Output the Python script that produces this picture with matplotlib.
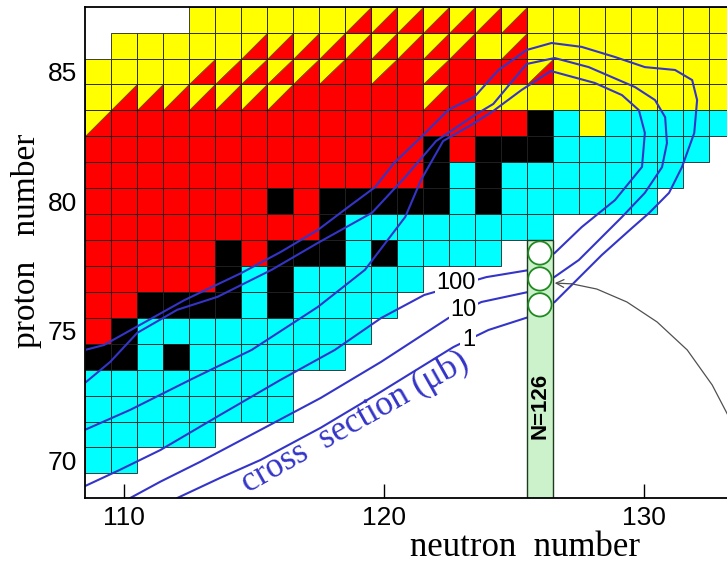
import matplotlib
matplotlib.use("Agg")
import matplotlib.pyplot as plt
from matplotlib.patches import Rectangle, Polygon, Circle

# one string per proton number, top row first; neutron numbers 109 ... 133
# Y alpha, R beta+/EC, K stable, C beta-, T split alpha / beta+, . nothing
proton_numbers = list(range(87, 68, -1))
first_neutron = 109
cell_rows = [
    "....YYYYYYTTTTTTTYYYYYYYY",  # 87
    ".YYYYYTTTTTTTTTYTYYYYYYYY",  # 86
    "YYYYTTTTTTRTRTRRRTYYYYYYY",  # 85
    "YTTTTTTTRRRRRTRYYYYYYYYYY",  # 84
    "TRRRRRRRRRRRRRRRRKCYCCCCC",  # 83
    "RRRRRRRRRRRRRKRKKKCCCCCC.",  # 82
    "RRRRRRRRRRRRRKCKCCCCCCC..",  # 81
    "RRRRRRRKRKKKKKCKCCCCCC...",  # 80
    "RRRRRRRRRKCCCCCCCC.......",  # 79
    "RRRRRKRKKKCKCCCC.........",  # 78
    "RRRRRKCKCCCCC............",  # 77
    "RRKKKKCKCCCC.............",  # 76
    "RKCCCCCCCCC..............",  # 75
    "KKCKCCCCCC...............",  # 74
    "CCCCCCCC.................",  # 73
    "CCCCCCCC.................",  # 72
    "CCCCC....................",  # 71
    "CC.......................",  # 70
    ".........................",  # 69
]
cell_colors = {"Y": "#ffff00", "R": "#ff0000", "K": "#000000", "C": "#00ffff"}

magic_n = 126
magic_top = 78.5
marked_z = [78, 77, 76]

# cross section contours (neutron number, proton number)
c1_n = [108.50, 109.23, 110.62, 112.32, 114.52, 116.03, 117.46, 118.73, 119.66, 120.39,
        121.43, 122.48, 123.48, 124.41, 125.49, 126.45, 127.61, 128.89, 130.04, 131.20,
        131.86, 132.05, 131.94, 131.47, 130.97, 130.20, 129.54, 128.38, 127.42, 126.57,
        125.57, 124.02, 122.67, 119.89, 117.57, 115.26, 113.71, 112.05]
c1_z = [74.26, 74.45, 75.23, 76.18, 77.23, 78.04, 78.89, 79.85, 80.54, 81.47,
        82.47, 83.52, 84.02, 85.06, 85.83, 86.10, 85.95, 85.56, 85.17, 85.06,
        84.67, 83.90, 82.63, 81.32, 80.32, 79.54, 78.96, 77.92, 76.96, 76.11,
        75.53, 75.03, 74.37, 72.65, 71.26, 70.02, 69.33, 68.55]

c10_n = [108.50, 109.47, 110.51, 112.05, 113.60, 115.68, 117.46, 119.54, 120.82, 122.01,
         123.56, 124.21, 125.49, 126.57, 127.88, 129.66, 130.43, 130.82, 130.89, 130.70,
         130.04, 129.16, 128.27, 127.50, 126.57, 125.57, 123.75, 122.48, 119.89, 117.57,
         115.26, 112.94, 111.40, 110.24]
c10_z = [72.99, 73.80, 74.92, 75.81, 76.31, 77.35, 78.39, 79.55, 80.93, 82.32,
         83.36, 83.75, 85.29, 85.52, 85.17, 84.40, 83.90, 83.24, 82.24, 81.31,
         80.32, 79.39, 78.50, 77.73, 77.08, 76.50, 76.11, 75.49, 73.80, 72.41,
         71.18, 69.95, 69.18, 68.55]

c100_n = [108.50, 110.24, 112.55, 114.91, 117.46, 119.27, 120.82, 121.43, 122.28, 123.36,
          124.21, 125.30, 126.42, 128.11, 129.16, 129.81, 130.04, 129.93, 128.89, 127.61,
          126.57, 125.57, 123.94, 121.55, 119.89, 118.11, 116.03, 113.71, 111.40, 109.85,
          108.50]
c100_z = [71.18, 71.95, 73.11, 74.26, 75.92, 77.35, 79.39, 80.82, 82.32, 82.94,
          83.48, 84.29, 85.02, 84.56, 84.09, 83.51, 82.63, 81.32, 80.04, 79.00,
          78.00, 77.34, 77.07, 76.38, 75.49, 74.26, 73.11, 71.76, 70.40, 69.64,
          69.01]

contour_labels = ["100", "10", "1"]
label_n = [122.79, 123.06, 123.25]
label_z = [76.84, 75.80, 74.65]

arrow_n = [126.57, 127.23, 128.19, 129.35, 130.51, 131.67, 132.63, 133.29]
arrow_z = [76.84, 76.81, 76.61, 76.11, 75.34, 74.26, 72.91, 71.64]

line_blue = "#3434c8"

fig = plt.figure(figsize=(7.27, 5.66), dpi=100)
ax = fig.add_axes([85 / 727, 68 / 566, 642 / 727, 491.3 / 566])
ax.set_axisbelow(True)

for z, row in zip(proton_numbers, cell_rows):
    for i, code in enumerate(row):
        n = first_neutron + i
        x0, y0 = n - 0.5, z - 0.5
        if code == ".":
            continue
        if code == "T":
            ax.add_patch(Polygon([(x0, y0), (x0, y0 + 1), (x0 + 1, y0 + 1)],
                                 facecolor="#ffff00", edgecolor="#6b5a00", lw=0.5, zorder=1))
            ax.add_patch(Polygon([(x0, y0), (x0 + 1, y0), (x0 + 1, y0 + 1)],
                                 facecolor="#ff0000", edgecolor="#6b5a00", lw=0.5, zorder=1))
            ax.add_patch(Rectangle((x0, y0), 1, 1, facecolor="none",
                                   edgecolor="#202020", lw=0.6, zorder=1.1))
        else:
            ax.add_patch(Rectangle((x0, y0), 1, 1, facecolor=cell_colors[code],
                                   edgecolor="#202020", lw=0.6, zorder=1))

for cn, cz in [(c1_n, c1_z), (c10_n, c10_z), (c100_n, c100_z)]:
    ax.plot(cn, cz, color=line_blue, lw=1.5, zorder=2, solid_joinstyle="round")

for txt, n, z in zip(contour_labels, label_n, label_z):
    ax.text(n, z, txt, fontsize=17, family="Liberation Sans", ha="center", va="center",
            zorder=3, bbox=dict(facecolor="white", edgecolor="none", pad=1.0))

ax.text(118.9, 71.45, "cross  section (\u03bcb)", fontsize=25, family="Liberation Serif",
        color=line_blue, rotation=29.5, ha="center", va="center", zorder=3)

# N = 126 strip
ax.add_patch(Rectangle((magic_n - 0.5, 68.0), 1, magic_top - 68.0, facecolor="#ccf2cc",
                       edgecolor="#1e3a1e", lw=1.0, zorder=4))
for z in marked_z:
    ax.add_patch(Circle((magic_n, z), 0.45, facecolor="white", edgecolor="#1f8a1f",
                        lw=1.3, zorder=5))
ax.text(magic_n, 72.1, "N=126", rotation=90, fontsize=16, fontweight="bold",
        family="Liberation Sans", ha="center", va="center", zorder=6)

ax.plot(arrow_n[1:], arrow_z[1:], color="#505050", lw=0.9, zorder=6)
ax.annotate("", xy=(arrow_n[0], arrow_z[0]), xytext=(arrow_n[1], arrow_z[1]),
            arrowprops=dict(arrowstyle="->", color="#505050", lw=0.9,
                            shrinkA=0, shrinkB=0, mutation_scale=14), zorder=6)

ax.set_xlim(108.5, 133.2)
ax.set_ylim(68.55, 87.5)
ax.set_xticks([110, 120, 130])
ax.set_yticks([70, 75, 80, 85])
ax.tick_params(direction="in", length=10, width=1.0, labelsize=19, pad=6,
               top=False, right=False)
for lab in ax.get_xticklabels() + ax.get_yticklabels():
    lab.set_family("Liberation Sans")
for side in ["left", "bottom", "top"]:
    ax.spines[side].set_linewidth(1.3)
    ax.spines[side].set_zorder(7)
ax.spines["right"].set_visible(False)

fig.text(525 / 727, 1 - 548 / 566, "neutron  number", fontsize=25, family="Liberation Serif",
         ha="center", va="center")
fig.text(27 / 727, 1 - 241 / 566, "proton   number", fontsize=24, family="Liberation Serif",
         ha="center", va="center", rotation=90)

fig.savefig("out.png", dpi=100)
